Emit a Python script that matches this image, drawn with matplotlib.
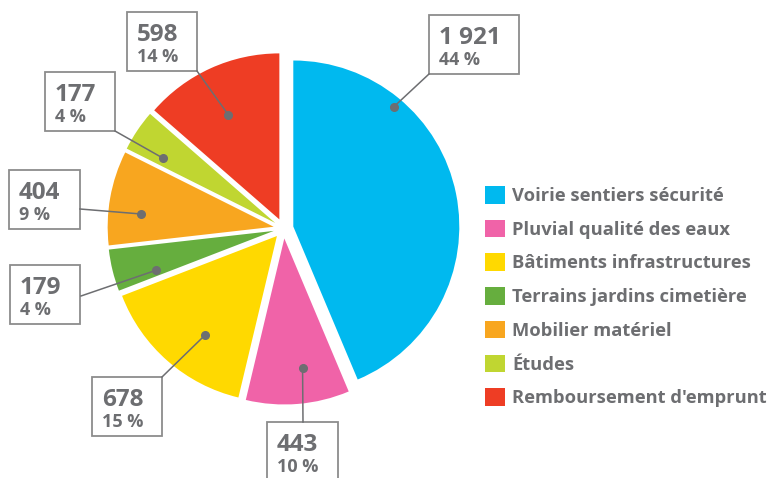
import numpy as np
import matplotlib.pyplot as plt
from matplotlib.patches import Rectangle, Patch

plt.rcParams['font.family'] = ['Open Sans', 'DejaVu Sans']

# data
categories = ["Voirie sentiers sécurité", "Pluvial qualité des eaux",
              "Bâtiments infrastructures", "Terrains jardins cimetière",
              "Mobilier matériel", "Études", "Remboursement d'emprunt"]
values = [1921, 443, 678, 179, 404, 177, 598]
percents = [44, 10, 15, 4, 9, 4, 14]
colors = ["#00b9ef", "#f063a8", "#ffd900", "#66ae3e", "#f8a61f", "#c0d631", "#ee3d24"]

GREY = "#6d6e71"
W, H = 771, 478

# layout (pixels, measured from top-left)
center = (283.5, 228.5)
radius = 166
gap = 10
boxes = [(429, 15, 90), (267, 422, 71), (92, 377, 70), (10, 265, 70),
         (9, 170, 71), (45, 72, 70), (127, 12, 70)]   # left, top, width
box_h = 59
anchors = [(429, 74), (303, 422), (162, 377), (81, 296),
           (80, 209), (115, 131), (197, 71)]
dot_angle = [40, 172, 216, 251.5, 275.5, 300, 334]   # clockwise from top
dot_r = [0.94, 0.79, 0.74, 0.75, 0.80, 0.78, 0.70]


def fy(y):
    return H - y


fig = plt.figure(figsize=(W / 100, H / 100), dpi=100)
ax = fig.add_axes([0, 0, 1, 1])

wedges, _ = ax.pie(values, colors=colors, startangle=90, counterclock=False,
                   explode=[gap] * len(values), radius=radius,
                   center=(center[0], fy(center[1])),
                   wedgeprops=dict(linewidth=0))
ax.set_xlim(0, W)
ax.set_ylim(0, H)
ax.set_aspect('equal')
ax.axis('off')

for i, w in enumerate(wedges):
    cx, cy = w.center
    a = np.deg2rad(90 - dot_angle[i])
    px = cx + dot_r[i] * radius * np.cos(a)
    py = cy + dot_r[i] * radius * np.sin(a)
    ax.plot([anchors[i][0], px], [fy(anchors[i][1]), py], color=GREY, lw=1.1)
    ax.plot(px, py, 'o', color=GREY, ms=5.5)
    bx, by, bw = boxes[i]
    ax.add_patch(Rectangle((bx, fy(by + box_h)), bw, box_h, facecolor='white',
                           edgecolor='#8c8c8c', lw=1.3, clip_on=False))
    ax.text(bx + 10, fy(by + 29), f"{values[i]:,}".replace(",", " "),
            fontsize=17.5, fontweight='bold', color=GREY, va='baseline')
    ax.text(bx + 10, fy(by + 50), f"{percents[i]} %",
            fontsize=13, fontweight='bold', color=GREY, va='baseline')

handles = [Patch(facecolor=c, edgecolor='none') for c in colors]
ax.legend(handles, categories, loc='upper left',
          bbox_to_anchor=(485 / W, 1 - 186 / H), bbox_transform=fig.transFigure,
          frameon=False, prop=dict(weight='bold', size=13.2),
          labelcolor=GREY, handlelength=1.1, handleheight=1.1,
          handletextpad=0.38, labelspacing=0.8, borderpad=0, borderaxespad=0)

fig.savefig("out.png", dpi=100)
